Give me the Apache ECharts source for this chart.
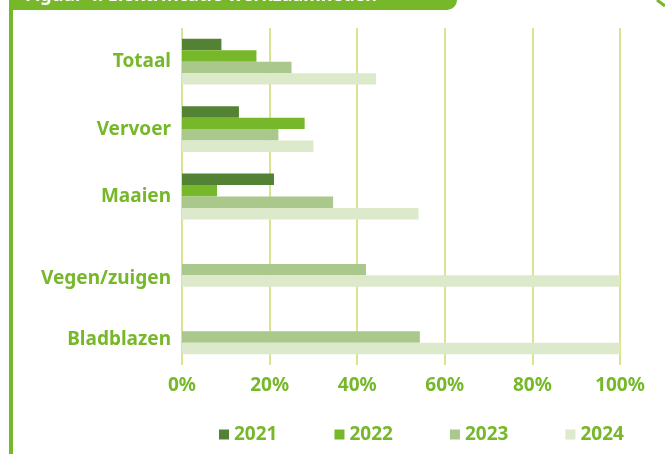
<!DOCTYPE html>
<html>
<head>
<meta charset="utf-8">
<script src="https://cdn.jsdelivr.net/npm/echarts@6/dist/echarts.min.js"></script>
<style>
  html, body { margin: 0; padding: 0; background: #fff; }
  #main { width: 665px; height: 454px; }
</style>
</head>
<body>
<div id="main"></div>
<script>
var categories = ['Totaal', 'Vervoer', 'Maaien', 'Vegen/zuigen', 'Bladblazen'];
var years = ['2021', '2022', '2023', '2024'];
var values2021 = [9, 13, 21, null, null];
var values2022 = [17, 28, 8, null, null];
var values2023 = [25, 22, 34.5, 42, 54.3];
var values2024 = [44.3, 30, 54, 100, 100];
var tickValues = [0, 20, 40, 60, 80, 100];

var green = '#76b82a';
var colors = ['#548235', '#76b82a', '#aac78c', '#dce9cb'];
var font = 'Noto Sans';
var fs = 19;

var myChart = echarts.init(document.getElementById('main'));

var seriesData = [values2021, values2022, values2023, values2024];

option = {
    animation: false,
    textStyle: { fontFamily: font },
    grid: {
        left: 182,
        right: 45,
        top: 28,
        bottom: 89,
        containLabel: false
    },
    legend: {
        bottom: 5,
        left: 214,
        icon: 'rect',
        itemWidth: 10,
        itemHeight: 10,
        itemGap: 57,
        textStyle: {
            color: green,
            fontSize: fs,
            fontWeight: 'bold',
            fontFamily: font
        },
        data: years
    },
    xAxis: {
        type: 'value',
        min: tickValues[0],
        max: tickValues[tickValues.length - 1],
        interval: 20,
        axisLine: { show: false },
        axisTick: { show: false },
        splitLine: {
            show: true,
            lineStyle: { color: '#d8e48f', width: 2 }
        },
        axisLabel: {
            formatter: '{value}%',
            color: green,
            fontSize: fs,
            fontWeight: 'bold',
            margin: 11
        }
    },
    yAxis: {
        type: 'category',
        inverse: true,
        data: categories,
        axisLine: { show: false },
        axisTick: { show: false },
        axisLabel: {
            margin: 11,
            // the two last category labels sit a bit lower in the original
            formatter: function (v, i) {
                var k = i === 3 ? 'c' : (i === 4 ? 'b' : 'a');
                return '{' + k + '|' + v + '}';
            },
            rich: {
                a: { color: green, fontSize: fs, fontWeight: 'bold', fontFamily: font },
                b: { color: green, fontSize: fs, fontWeight: 'bold', fontFamily: font, padding: [16, 0, 0, 0] },
                c: { color: green, fontSize: fs, fontWeight: 'bold', fontFamily: font, padding: [29, 0, 0, 0] }
            }
        }
    },
    graphic: [
        {
            type: 'rect',
            shape: { x: 9, y: -20, width: 4, height: 500 },
            style: { fill: green }
        },
        {
            type: 'rect',
            shape: { x: 9, y: -20, width: 448, height: 30, r: [0, 0, 10, 0] },
            style: { fill: green }
        },
        {
            type: 'text',
            left: 25,
            top: -13,
            style: {
                text: 'Figuur 4: Elektrificatie werkzaamheden',
                fill: '#fff',
                font: 'bold 18px "Noto Sans"'
            }
        },
        {
            type: 'line',
            shape: { x1: 657, y1: 0, x2: 665, y2: 6 },
            style: { stroke: green, lineWidth: 3 }
        }
    ],
    series: years.map(function (y, i) {
        return {
            name: y,
            type: 'bar',
            data: seriesData[i],
            barGap: '0%',
            barCategoryGap: '32%',
            itemStyle: { color: colors[i] }
        };
    })
};

myChart.setOption(option);
window.onresize = myChart.resize;
</script>
</body>
</html>
